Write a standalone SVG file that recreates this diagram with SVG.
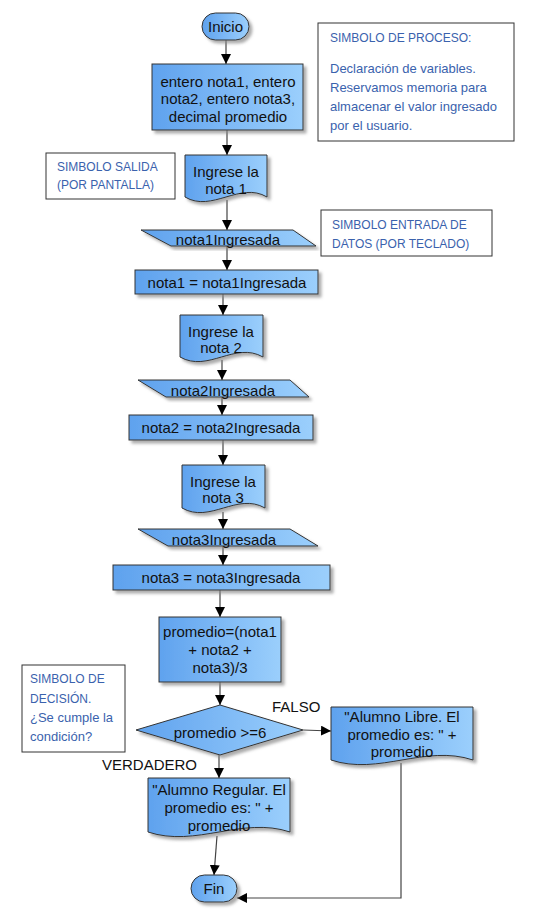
<svg xmlns="http://www.w3.org/2000/svg" width="534" height="918" viewBox="0 0 534 918">
<defs>
<linearGradient id="g" x1="0" y1="0" x2="1" y2="0">
<stop offset="0" stop-color="#5fa2ee"/>
<stop offset="1" stop-color="#9bcffc"/>
</linearGradient>
<filter id="sh" x="-10%" y="-10%" width="130%" height="140%">
<feDropShadow dx="3" dy="3" stdDeviation="1.5" flood-color="#888" flood-opacity="0.7"/>
</filter>
<marker id="ah" viewBox="0 0 10 10" refX="10" refY="5" markerWidth="10" markerHeight="10" markerUnits="userSpaceOnUse" orient="auto">
<path d="M0,0 L10,5 L0,10 Z" fill="#000"/>
</marker>
</defs>
<style>
.s{fill:url(#g);stroke:#333;stroke-width:1;filter:url(#sh)}
.t{font-family:"Liberation Sans",Arial,sans-serif;font-size:15px;fill:#111;text-anchor:middle}
.l{font-family:"Liberation Sans",Arial,sans-serif;font-size:15px;fill:#111}
.n{fill:#fff;stroke:#333;stroke-width:1}
.nt{font-family:"Liberation Sans",Arial,sans-serif;font-size:13px;fill:#3a62ad}
.nc{font-family:"Liberation Sans",Arial,sans-serif;font-size:12px;fill:#3a62ad}
.c{fill:none;stroke:#444;stroke-width:1.2}
.ca{fill:none;stroke:#444;stroke-width:1.2;marker-end:url(#ah)}
</style>
<rect width="534" height="918" fill="#fff"/>
<g id="connectors">
<line class="ca" x1="226" y1="40" x2="226" y2="64"/>
<line class="ca" x1="227" y1="130" x2="227" y2="155"/>
<line class="ca" x1="227" y1="200" x2="227" y2="230"/>
<line class="ca" x1="227" y1="246" x2="227" y2="270"/>
<line class="ca" x1="223" y1="294" x2="223" y2="315"/>
<line class="ca" x1="222" y1="360" x2="222" y2="380"/>
<line class="ca" x1="222" y1="397" x2="222" y2="415"/>
<line class="ca" x1="223" y1="440" x2="223" y2="465"/>
<line class="ca" x1="223" y1="512" x2="223" y2="529"/>
<line class="ca" x1="223" y1="546" x2="223" y2="565"/>
<line class="ca" x1="220" y1="590" x2="220" y2="617"/>
<line class="ca" x1="220" y1="682" x2="220" y2="705"/>
<line class="ca" x1="303" y1="730" x2="331" y2="731"/>
<line class="ca" x1="219" y1="755" x2="219" y2="778"/>
<line class="ca" x1="217" y1="836" x2="214" y2="875"/>
<polyline class="ca" points="401,763 401,898 237,898"/>
</g>
<g id="inicio">
<rect class="s" x="202" y="13" width="47" height="27" rx="13.5"/>
<text class="t" x="225.5" y="32">Inicio</text>
</g>
<g id="declaracion">
<rect class="s" x="152" y="64" width="151" height="66"/>
<text class="t" x="228" y="87">entero nota1, entero</text>
<text class="t" x="228" y="104">nota2, entero nota3,</text>
<text class="t" x="228" y="122">decimal promedio</text>
</g>
<g id="nota-proceso">
<rect class="n" x="318" y="23" width="196" height="118"/>
<text class="nc" x="330" y="42">SIMBOLO DE PROCESO:</text>
<text class="nt" x="330" y="73">Declaración de variables.</text>
<text class="nt" x="330" y="92">Reservamos memoria para</text>
<text class="nt" x="330" y="111">almacenar el valor ingresado</text>
<text class="nt" x="330" y="130">por el usuario.</text>
</g>
<g id="nota-salida">
<rect class="n" x="46" y="153" width="129" height="46"/>
<text class="nc" x="57" y="171">SIMBOLO SALIDA</text>
<text class="nc" x="57" y="189">(POR PANTALLA)</text>
</g>
<g id="salida1">
<path class="s" d="M185,155 H267 V197 C240,181 212,213 185,197 Z"/>
<text class="t" x="226" y="177">Ingrese la</text>
<text class="t" x="226" y="194">nota 1</text>
</g>
<g id="nota-entrada">
<rect class="n" x="321" y="210" width="171" height="46"/>
<text class="nc" x="332" y="229" font-size="11.5">SIMBOLO ENTRADA DE</text>
<text class="nc" x="332" y="248" font-size="11.5">DATOS (POR TECLADO)</text>
</g>
<g id="entrada1">
<polygon class="s" points="141,230 293,230 316,246 171,246"/>
<text class="t" x="228" y="245">nota1Ingresada</text>
</g>
<g id="asig1">
<rect class="s" x="135" y="270" width="183" height="24"/>
<text class="t" x="227" y="288">nota1 = nota1Ingresada</text>
</g>
<g id="salida2">
<path class="s" d="M180,315 H263 V357 C235,341 208,373 180,357 Z"/>
<text class="t" x="221" y="337">Ingrese la</text>
<text class="t" x="221" y="353">nota 2</text>
</g>
<g id="entrada2">
<polygon class="s" points="138,380 290,380 309,397 166,397"/>
<text class="t" x="223" y="396">nota2Ingresada</text>
</g>
<g id="asig2">
<rect class="s" x="129" y="415" width="184" height="25"/>
<text class="t" x="221" y="433">nota2 = nota2Ingresada</text>
</g>
<g id="salida3">
<path class="s" d="M182,465 H265 V508 C237,492 210,524 182,508 Z"/>
<text class="t" x="223" y="487">Ingrese la</text>
<text class="t" x="223" y="503">nota 3</text>
</g>
<g id="entrada3">
<polygon class="s" points="138,529 290,529 318,546 168,546"/>
<text class="t" x="224" y="545">nota3Ingresada</text>
</g>
<g id="asig3">
<rect class="s" x="113" y="565" width="217" height="25"/>
<text class="t" x="221" y="583">nota3 = nota3Ingresada</text>
</g>
<g id="promedio">
<rect class="s" x="159" y="617" width="122" height="65"/>
<text class="t" x="220" y="637">promedio=(nota1</text>
<text class="t" x="220" y="655">+ nota2 +</text>
<text class="t" x="220" y="673">nota3)/3</text>
</g>
<g id="nota-decision">
<rect class="n" x="22" y="665" width="103" height="87"/>
<text class="nc" x="30" y="683">SIMBOLO DE</text>
<text class="nc" x="30" y="703">DECISIÓN.</text>
<text class="nt" x="30" y="722">¿Se cumple la</text>
<text class="nt" x="30" y="741">condición?</text>
</g>
<g id="decision">
<polygon class="s" points="136,730 220,705 303,730 220,755"/>
<text class="t" x="220" y="738">promedio &gt;=6</text>
</g>
<text class="l" x="272" y="712">FALSO</text>
<text class="l" x="102" y="770">VERDADERO</text>
<g id="libre">
<path class="s" d="M331,707 H473 V760 C425,744 379,776 331,760 Z"/>
<text class="t" x="402" y="722">"Alumno Libre. El</text>
<text class="t" x="402" y="740">promedio es: " +</text>
<text class="t" x="402" y="757">promedio</text>
</g>
<g id="regular">
<path class="s" d="M148,778 H290 V832 C242,816 196,848 148,832 Z"/>
<text class="t" x="219" y="795">"Alumno Regular. El</text>
<text class="t" x="219" y="813">promedio es: " +</text>
<text class="t" x="219" y="831">promedio</text>
</g>
<g id="fin">
<rect class="s" x="191" y="875" width="46" height="27" rx="13.5"/>
<text class="t" x="214" y="894">Fin</text>
</g>
</svg>
